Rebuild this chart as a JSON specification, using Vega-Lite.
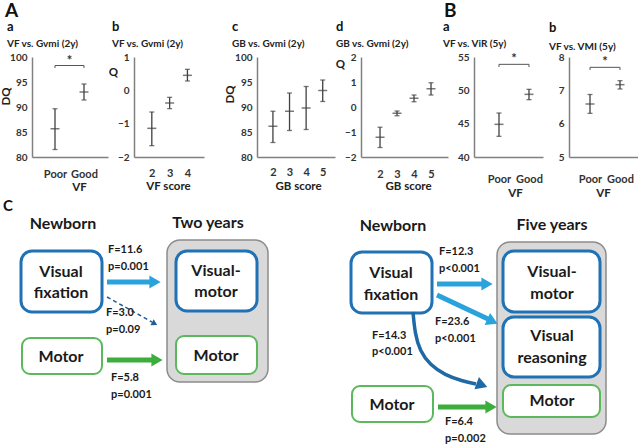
{
  "$schema": "https://vega.github.io/schema/vega-lite/v6.json",
  "background": "white",
  "padding": {"left": 0, "top": 2, "right": 0, "bottom": 0},
  "config": {
    "font": "Lato",
    "view": {"stroke": null},
    "axis": {"grid": false, "ticks": false, "labelOverlap": false, "labelFlush": false, "domainColor": "#808080", "domainWidth": 1.5, "labelFontSize": 10, "labelFontWeight": "bold", "labelColor": "#333333", "titleFontSize": 11.5, "titleFontWeight": "bold", "titleColor": "#222222", "titleBaseline": "middle", "titleAlign": "center", "labelPadding": 5},
    "axisX": {"labelFontSize": 11, "labelAngle": 0},
    "title": {"anchor": "start", "frame": "group", "fontSize": 13, "fontWeight": "bold", "color": "#111111", "subtitleFontSize": 10, "subtitleFontWeight": "bold", "subtitleColor": "#222222", "subtitlePadding": 5, "offset": 3}
  },
  "datasets": {
    "A_a": [{"vf": 1, "m": 85.65, "lo": 81.5, "hi": 89.65}, {"vf": 2, "m": 93.0, "lo": 91.4, "hi": 94.6}],
    "A_b": [{"s": 2, "m": -1.14, "lo": -1.66, "hi": -0.65}, {"s": 3, "m": -0.38, "lo": -0.55, "hi": -0.21}, {"s": 4, "m": 0.45, "lo": 0.28, "hi": 0.63}],
    "A_c": [{"s": 2, "m": 86.15, "lo": 82.9, "hi": 89.15}, {"s": 3, "m": 89.15, "lo": 85.3, "hi": 92.8}, {"s": 4, "m": 89.8, "lo": 85.5, "hi": 94.1}, {"s": 5, "m": 93.3, "lo": 91.1, "hi": 95.4}],
    "A_d": [{"s": 2, "m": -1.21, "lo": -1.62, "hi": -0.81}, {"s": 3, "m": -0.25, "lo": -0.35, "hi": -0.16}, {"s": 4, "m": 0.35, "lo": 0.21, "hi": 0.48}, {"s": 5, "m": 0.73, "lo": 0.48, "hi": 0.97}],
    "B_a": [{"vf": 1, "m": 44.9, "lo": 43.1, "hi": 46.6}, {"vf": 2, "m": 49.4, "lo": 48.6, "hi": 50.15}],
    "B_b": [{"vf": 1, "m": 6.59, "lo": 6.31, "hi": 6.875}, {"vf": 2, "m": 7.17, "lo": 7.04, "hi": 7.29}],
    "sig_Aa": [{"p1": 1, "p2": 2, "mid": 1.5, "lev": 98.3, "drop": 97.8, "t": "*"}],
    "sig_Ba": [{"p1": 1, "p2": 2, "mid": 1.5, "lev": 53.9, "drop": 53.5, "t": "*"}],
    "sig_Bb": [{"p1": 1, "p2": 2, "mid": 1.5, "lev": 7.69, "drop": 7.61, "t": "*"}],
    "grayBoxes": [{"x": 167, "x2": 268, "y": 241, "y2": 383}, {"x": 497, "x2": 606, "y": 243, "y2": 435}],
    "blueBoxes": [{"x": 21, "x2": 102, "y": 252, "y2": 313}, {"x": 176, "x2": 257, "y": 252, "y2": 312}, {"x": 351, "x2": 432, "y": 253, "y2": 314}, {"x": 503, "x2": 600, "y": 252, "y2": 313}, {"x": 503, "x2": 600, "y": 318, "y2": 378}],
    "greenBoxes": [{"x": 22, "x2": 102, "y": 339, "y2": 375}, {"x": 176, "x2": 257, "y": 337, "y2": 375}, {"x": 352, "x2": 433, "y": 387, "y2": 423}, {"x": 503, "x2": 600, "y": 386, "y2": 418}],
    "lightShafts": [{"x": 107, "y": 283, "x2": 151, "y2": 283}, {"x": 437, "y": 285, "x2": 482, "y2": 285}, {"x": 437, "y": 296, "x2": 488, "y2": 320}],
    "greenShafts": [{"x": 107, "y": 361, "x2": 152, "y2": 361}, {"x": 438, "y": 408, "x2": 486, "y2": 408}],
    "dashedShafts": [{"x": 107, "y": 298, "x2": 152, "y2": 323}],
    "curve": [{"i": 1, "x": 413, "y": 313}, {"i": 2, "x": 415, "y": 335}, {"i": 3, "x": 420, "y": 352}, {"i": 4, "x": 430, "y": 366}, {"i": 5, "x": 445, "y": 376}, {"i": 6, "x": 462, "y": 382}, {"i": 7, "x": 476, "y": 385}],
    "lightHeads": [{"x": 155, "y": 283, "a": 0}, {"x": 487, "y": 285, "a": 0}, {"x": 492.5, "y": 322.4, "a": 25}],
    "greenHeads": [{"x": 157, "y": 361, "a": 0}, {"x": 491, "y": 408, "a": 0}],
    "dashedHeads": [{"x": 154.6, "y": 324.7, "a": 29}],
    "darkHeads": [{"x": 482, "y": 386, "a": 20}],
    "headers": [{"t": "Newborn", "x": 63, "y": 225}, {"t": "Two years", "x": 208, "y": 224}, {"t": "Newborn", "x": 393, "y": 227}, {"t": "Five years", "x": 552, "y": 226}],
    "boxText": [{"t": "Visual", "x": 61, "y": 273}, {"t": "fixation", "x": 61, "y": 294}, {"t": "Motor", "x": 61, "y": 358}, {"t": "Visual-", "x": 216, "y": 272}, {"t": "motor", "x": 216, "y": 293}, {"t": "Motor", "x": 216, "y": 357}, {"t": "Visual", "x": 391, "y": 274}, {"t": "fixation", "x": 391, "y": 296}, {"t": "Motor", "x": 392, "y": 406}, {"t": "Visual-", "x": 552, "y": 273}, {"t": "motor", "x": 552, "y": 295}, {"t": "Visual", "x": 552, "y": 337}, {"t": "reasoning", "x": 552, "y": 359}, {"t": "Motor", "x": 552, "y": 402}],
    "stats": [{"t": "F=11.6", "x": 108, "y": 251}, {"t": "p=0.001", "x": 108, "y": 268}, {"t": "F=3.0", "x": 106, "y": 314}, {"t": "p=0.09", "x": 106, "y": 331}, {"t": "F=5.8", "x": 111, "y": 379}, {"t": "p=0.001", "x": 111, "y": 396}, {"t": "F=12.3", "x": 439, "y": 253}, {"t": "p<0.001", "x": 439, "y": 270}, {"t": "F=23.6", "x": 435, "y": 323}, {"t": "p<0.001", "x": 435, "y": 340}, {"t": "F=14.3", "x": 372, "y": 337}, {"t": "p<0.001", "x": 372, "y": 353}, {"t": "F=6.4", "x": 445, "y": 423}, {"t": "p=0.002", "x": 445, "y": 440}],
    "bigLetters": [{"t": "A", "x": 5, "y": 12}, {"t": "B", "x": 444, "y": 12}],
    "letterC": [{"t": "C", "x": 3, "y": 207}]
  },
  "bounds": "flush",
  "spacing": 26,
  "hconcat": [
    {
      "width": 76, "height": 100,
      "title": {"text": "a", "subtitle": "VF vs. Gvmi (2y)", "dx": -25},
      "data": {"name": "A_a"},
      "layer": [
        {"mark": {"type": "rule", "color": "#404040", "strokeWidth": 1.3},
         "encoding": {
           "x": {"field": "vf", "type": "quantitative", "title": "VF", "scale": {"domain": [0.207, 2.828], "nice": false, "zero": false}, "axis": {"values": [1, 2], "labelOverlap": false, "labelExpr": "datum.value == 1 ? 'Poor' : 'Good'", "labelPadding": 11, "titleX": 47, "titleY": 30}},
           "y": {"field": "lo", "type": "quantitative", "title": "DQ", "scale": {"domain": [80, 100], "nice": false, "zero": false}, "axis": {"values": [80, 85, 90, 95, 100], "labelOverlap": false, "titleX": -26, "titleY": 39}},
           "y2": {"field": "hi"}}},
        {"mark": {"type": "tick", "orient": "horizontal", "size": 5, "thickness": 1.3, "color": "#404040"},
         "encoding": {
           "x": {"field": "vf", "type": "quantitative", "title": "VF", "scale": {"domain": [0.207, 2.828], "nice": false, "zero": false}, "axis": {"values": [1, 2], "labelOverlap": false, "labelExpr": "datum.value == 1 ? 'Poor' : 'Good'", "labelPadding": 11, "titleX": 47, "titleY": 30}},
           "y": {"field": "lo", "type": "quantitative", "title": "DQ", "scale": {"domain": [80, 100], "nice": false, "zero": false}, "axis": {"values": [80, 85, 90, 95, 100], "labelOverlap": false, "titleX": -26, "titleY": 39}}}},
        {"mark": {"type": "tick", "orient": "horizontal", "size": 5, "thickness": 1.3, "color": "#404040"},
         "encoding": {
           "x": {"field": "vf", "type": "quantitative", "title": "VF", "scale": {"domain": [0.207, 2.828], "nice": false, "zero": false}, "axis": {"values": [1, 2], "labelOverlap": false, "labelExpr": "datum.value == 1 ? 'Poor' : 'Good'", "labelPadding": 11, "titleX": 47, "titleY": 30}},
           "y": {"field": "hi", "type": "quantitative", "title": "DQ", "scale": {"domain": [80, 100], "nice": false, "zero": false}, "axis": {"values": [80, 85, 90, 95, 100], "labelOverlap": false, "titleX": -26, "titleY": 39}}}},
        {"mark": {"type": "tick", "orient": "horizontal", "size": 9, "thickness": 1.5, "color": "#404040"},
         "encoding": {
           "x": {"field": "vf", "type": "quantitative", "title": "VF", "scale": {"domain": [0.207, 2.828], "nice": false, "zero": false}, "axis": {"values": [1, 2], "labelOverlap": false, "labelExpr": "datum.value == 1 ? 'Poor' : 'Good'", "labelPadding": 11, "titleX": 47, "titleY": 30}},
           "y": {"field": "m", "type": "quantitative", "title": "DQ", "scale": {"domain": [80, 100], "nice": false, "zero": false}, "axis": {"values": [80, 85, 90, 95, 100], "labelOverlap": false, "titleX": -26, "titleY": 39}}}},
        {"data": {"name": "sig_Aa"}, "mark": {"type": "rule", "color": "#555555", "strokeWidth": 1},
         "encoding": {
           "x": {"field": "p1", "type": "quantitative", "title": "VF", "scale": {"domain": [0.207, 2.828], "nice": false, "zero": false}, "axis": {"values": [1, 2], "labelOverlap": false, "labelExpr": "datum.value == 1 ? 'Poor' : 'Good'", "labelPadding": 11, "titleX": 47, "titleY": 30}},
           "x2": {"field": "p2"},
           "y": {"field": "lev", "type": "quantitative", "title": "DQ", "scale": {"domain": [80, 100], "nice": false, "zero": false}, "axis": {"values": [80, 85, 90, 95, 100], "labelOverlap": false, "titleX": -26, "titleY": 39}}}},
        {"data": {"name": "sig_Aa"}, "mark": {"type": "rule", "color": "#555555", "strokeWidth": 1},
         "encoding": {
           "x": {"field": "p1", "type": "quantitative", "title": "VF", "scale": {"domain": [0.207, 2.828], "nice": false, "zero": false}, "axis": {"values": [1, 2], "labelOverlap": false, "labelExpr": "datum.value == 1 ? 'Poor' : 'Good'", "labelPadding": 11, "titleX": 47, "titleY": 30}},
           "y": {"field": "lev", "type": "quantitative", "title": "DQ", "scale": {"domain": [80, 100], "nice": false, "zero": false}, "axis": {"values": [80, 85, 90, 95, 100], "labelOverlap": false, "titleX": -26, "titleY": 39}},
           "y2": {"field": "drop"}}},
        {"data": {"name": "sig_Aa"}, "mark": {"type": "rule", "color": "#555555", "strokeWidth": 1},
         "encoding": {
           "x": {"field": "p2", "type": "quantitative", "title": "VF", "scale": {"domain": [0.207, 2.828], "nice": false, "zero": false}, "axis": {"values": [1, 2], "labelOverlap": false, "labelExpr": "datum.value == 1 ? 'Poor' : 'Good'", "labelPadding": 11, "titleX": 47, "titleY": 30}},
           "y": {"field": "lev", "type": "quantitative", "title": "DQ", "scale": {"domain": [80, 100], "nice": false, "zero": false}, "axis": {"values": [80, 85, 90, 95, 100], "labelOverlap": false, "titleX": -26, "titleY": 39}},
           "y2": {"field": "drop"}}},
        {"data": {"name": "sig_Aa"}, "mark": {"type": "text", "fontSize": 13, "fontWeight": "bold", "baseline": "alphabetic", "dy": -1, "color": "#333333"},
         "encoding": {
           "x": {"field": "mid", "type": "quantitative", "title": "VF", "scale": {"domain": [0.207, 2.828], "nice": false, "zero": false}, "axis": {"values": [1, 2], "labelOverlap": false, "labelExpr": "datum.value == 1 ? 'Poor' : 'Good'", "labelPadding": 11, "titleX": 47, "titleY": 30}},
           "y": {"field": "lev", "type": "quantitative", "title": "DQ", "scale": {"domain": [80, 100], "nice": false, "zero": false}, "axis": {"values": [80, 85, 90, 95, 100], "labelOverlap": false, "titleX": -26, "titleY": 39}},
           "text": {"field": "t"}}}
      ]
    },
    {
      "width": 70, "height": 100,
      "title": {"text": "b", "subtitle": "VF vs. Gvmi (2y)", "dx": -22},
      "data": {"name": "A_b"},
      "layer": [
        {"mark": {"type": "rule", "color": "#404040", "strokeWidth": 1.3},
         "encoding": {
           "x": {"field": "s", "type": "quantitative", "title": "VF score", "scale": {"domain": [1.0, 4.93], "nice": false, "zero": false}, "axis": {"values": [2, 3, 4], "labelOverlap": false, "labelPadding": 10, "titleX": 34, "titleY": 29}},
           "y": {"field": "lo", "type": "quantitative", "title": "Q", "scale": {"domain": [-2, 1], "nice": false, "zero": false}, "axis": {"values": [-2, -1, 0, 1], "labelOverlap": false, "titleAngle": 0, "titleX": -21, "titleY": 15}},
           "y2": {"field": "hi"}}},
        {"mark": {"type": "tick", "orient": "horizontal", "size": 5, "thickness": 1.3, "color": "#404040"},
         "encoding": {
           "x": {"field": "s", "type": "quantitative", "title": "VF score", "scale": {"domain": [1.0, 4.93], "nice": false, "zero": false}, "axis": {"values": [2, 3, 4], "labelOverlap": false, "labelPadding": 10, "titleX": 34, "titleY": 29}},
           "y": {"field": "lo", "type": "quantitative", "title": "Q", "scale": {"domain": [-2, 1], "nice": false, "zero": false}, "axis": {"values": [-2, -1, 0, 1], "labelOverlap": false, "titleAngle": 0, "titleX": -21, "titleY": 15}}}},
        {"mark": {"type": "tick", "orient": "horizontal", "size": 5, "thickness": 1.3, "color": "#404040"},
         "encoding": {
           "x": {"field": "s", "type": "quantitative", "title": "VF score", "scale": {"domain": [1.0, 4.93], "nice": false, "zero": false}, "axis": {"values": [2, 3, 4], "labelOverlap": false, "labelPadding": 10, "titleX": 34, "titleY": 29}},
           "y": {"field": "hi", "type": "quantitative", "title": "Q", "scale": {"domain": [-2, 1], "nice": false, "zero": false}, "axis": {"values": [-2, -1, 0, 1], "labelOverlap": false, "titleAngle": 0, "titleX": -21, "titleY": 15}}}},
        {"mark": {"type": "tick", "orient": "horizontal", "size": 9, "thickness": 1.5, "color": "#404040"},
         "encoding": {
           "x": {"field": "s", "type": "quantitative", "title": "VF score", "scale": {"domain": [1.0, 4.93], "nice": false, "zero": false}, "axis": {"values": [2, 3, 4], "labelOverlap": false, "labelPadding": 10, "titleX": 34, "titleY": 29}},
           "y": {"field": "m", "type": "quantitative", "title": "Q", "scale": {"domain": [-2, 1], "nice": false, "zero": false}, "axis": {"values": [-2, -1, 0, 1], "labelOverlap": false, "titleAngle": 0, "titleX": -21, "titleY": 15}}}}
      ]
    },
    {
      "width": 1, "height": 100,
      "encoding": {
        "x": {"field": "x", "type": "quantitative", "scale": {"domain": [0, 640], "range": [-230, 410], "nice": false, "zero": false}, "axis": null},
        "y": {"field": "y", "type": "quantitative", "scale": {"domain": [58, 448], "range": [0, 390], "nice": false, "zero": false}, "axis": null}
      },
      "layer": [
        {"data": {"name": "grayBoxes"}, "mark": {"type": "rect", "cornerRadius": 13, "fill": "#d9d9d9", "stroke": "#8c8c8c", "strokeWidth": 1.5}, "encoding": {"x2": {"field": "x2"}, "y2": {"field": "y2"}}},
        {"data": {"name": "blueBoxes"}, "mark": {"type": "rect", "cornerRadius": 11, "fill": "#ffffff", "stroke": "#2171b5", "strokeWidth": 3}, "encoding": {"x2": {"field": "x2"}, "y2": {"field": "y2"}}},
        {"data": {"name": "greenBoxes"}, "mark": {"type": "rect", "cornerRadius": 8, "fill": "#ffffff", "stroke": "#5cb85c", "strokeWidth": 2}, "encoding": {"x2": {"field": "x2"}, "y2": {"field": "y2"}}},
        {"data": {"name": "lightShafts"}, "mark": {"type": "rule", "color": "#2aa3dd", "strokeWidth": 5}, "encoding": {"x2": {"field": "x2"}, "y2": {"field": "y2"}}},
        {"data": {"name": "greenShafts"}, "mark": {"type": "rule", "color": "#3dae3d", "strokeWidth": 5}, "encoding": {"x2": {"field": "x2"}, "y2": {"field": "y2"}}},
        {"data": {"name": "dashedShafts"}, "mark": {"type": "rule", "color": "#1f5c99", "strokeWidth": 1.5, "strokeDash": [4, 3]}, "encoding": {"x2": {"field": "x2"}, "y2": {"field": "y2"}}},
        {"data": {"name": "curve"}, "mark": {"type": "line", "color": "#1d6aa6", "strokeWidth": 3.5, "interpolate": "basis"}, "encoding": {"order": {"field": "i", "type": "quantitative"}}},
        {"data": {"name": "lightHeads"}, "mark": {"type": "point", "shape": "triangle-right", "filled": true, "size": 170, "color": "#2aa3dd", "opacity": 1}, "encoding": {"angle": {"field": "a", "type": "quantitative", "scale": null}}},
        {"data": {"name": "greenHeads"}, "mark": {"type": "point", "shape": "triangle-right", "filled": true, "size": 170, "color": "#3dae3d", "opacity": 1}, "encoding": {"angle": {"field": "a", "type": "quantitative", "scale": null}}},
        {"data": {"name": "dashedHeads"}, "mark": {"type": "point", "shape": "triangle-right", "filled": true, "size": 45, "color": "#1f5c99", "opacity": 1}, "encoding": {"angle": {"field": "a", "type": "quantitative", "scale": null}}},
        {"data": {"name": "darkHeads"}, "mark": {"type": "point", "shape": "triangle-right", "filled": true, "size": 170, "color": "#1d6aa6", "opacity": 1}, "encoding": {"angle": {"field": "a", "type": "quantitative", "scale": null}}},
        {"data": {"name": "headers"}, "mark": {"type": "text", "fontSize": 16, "fontWeight": "bold", "align": "center", "baseline": "middle", "color": "#1a1a1a"}, "encoding": {"text": {"field": "t"}}},
        {"data": {"name": "boxText"}, "mark": {"type": "text", "fontSize": 16, "fontWeight": "bold", "align": "center", "baseline": "middle", "color": "#1a1a1a"}, "encoding": {"text": {"field": "t"}}},
        {"data": {"name": "stats"}, "mark": {"type": "text", "fontSize": 11, "fontWeight": "bold", "align": "left", "baseline": "middle", "color": "#1a1a1a"}, "encoding": {"text": {"field": "t"}}},
        {"data": {"name": "bigLetters"}, "mark": {"type": "text", "fontSize": 19, "fontWeight": "bold", "align": "left", "baseline": "middle", "color": "#111111"}, "encoding": {"text": {"field": "t"}}},
        {"data": {"name": "letterC"}, "mark": {"type": "text", "fontSize": 15, "fontWeight": "bold", "align": "left", "baseline": "middle", "color": "#111111"}, "encoding": {"text": {"field": "t"}}}
      ]
    },
    {
      "width": 78, "height": 100,
      "title": {"text": "c", "subtitle": "GB vs. Gvmi (2y)", "dx": -25},
      "data": {"name": "A_c"},
      "layer": [
        {"mark": {"type": "rule", "color": "#404040", "strokeWidth": 1.3},
         "encoding": {
           "x": {"field": "s", "type": "quantitative", "title": "GB score", "scale": {"domain": [1.04, 5.74], "nice": false, "zero": false}, "axis": {"values": [2, 3, 4, 5], "labelOverlap": false, "labelPadding": 9, "titleX": 41, "titleY": 29}},
           "y": {"field": "lo", "type": "quantitative", "title": "DQ", "scale": {"domain": [80, 100], "nice": false, "zero": false}, "axis": {"values": [80, 85, 90, 95, 100], "labelOverlap": false, "titleX": -27, "titleY": 37}},
           "y2": {"field": "hi"}}},
        {"mark": {"type": "tick", "orient": "horizontal", "size": 5, "thickness": 1.3, "color": "#404040"},
         "encoding": {
           "x": {"field": "s", "type": "quantitative", "title": "GB score", "scale": {"domain": [1.04, 5.74], "nice": false, "zero": false}, "axis": {"values": [2, 3, 4, 5], "labelOverlap": false, "labelPadding": 9, "titleX": 41, "titleY": 29}},
           "y": {"field": "lo", "type": "quantitative", "title": "DQ", "scale": {"domain": [80, 100], "nice": false, "zero": false}, "axis": {"values": [80, 85, 90, 95, 100], "labelOverlap": false, "titleX": -27, "titleY": 37}}}},
        {"mark": {"type": "tick", "orient": "horizontal", "size": 5, "thickness": 1.3, "color": "#404040"},
         "encoding": {
           "x": {"field": "s", "type": "quantitative", "title": "GB score", "scale": {"domain": [1.04, 5.74], "nice": false, "zero": false}, "axis": {"values": [2, 3, 4, 5], "labelOverlap": false, "labelPadding": 9, "titleX": 41, "titleY": 29}},
           "y": {"field": "hi", "type": "quantitative", "title": "DQ", "scale": {"domain": [80, 100], "nice": false, "zero": false}, "axis": {"values": [80, 85, 90, 95, 100], "labelOverlap": false, "titleX": -27, "titleY": 37}}}},
        {"mark": {"type": "tick", "orient": "horizontal", "size": 9, "thickness": 1.5, "color": "#404040"},
         "encoding": {
           "x": {"field": "s", "type": "quantitative", "title": "GB score", "scale": {"domain": [1.04, 5.74], "nice": false, "zero": false}, "axis": {"values": [2, 3, 4, 5], "labelOverlap": false, "labelPadding": 9, "titleX": 41, "titleY": 29}},
           "y": {"field": "m", "type": "quantitative", "title": "DQ", "scale": {"domain": [80, 100], "nice": false, "zero": false}, "axis": {"values": [80, 85, 90, 95, 100], "labelOverlap": false, "titleX": -27, "titleY": 37}}}}
      ]
    },
    {
      "width": 87, "height": 100,
      "title": {"text": "d", "subtitle": "GB vs. Gvmi (2y)", "dx": -25},
      "data": {"name": "A_d"},
      "layer": [
        {"mark": {"type": "rule", "color": "#404040", "strokeWidth": 1.3},
         "encoding": {
           "x": {"field": "s", "type": "quantitative", "title": "GB score", "scale": {"domain": [0.88, 6.0], "nice": false, "zero": false}, "axis": {"values": [2, 3, 4, 5], "labelOverlap": false, "labelPadding": 11, "titleX": 47, "titleY": 29}},
           "y": {"field": "lo", "type": "quantitative", "title": "Q", "scale": {"domain": [-2, 2], "nice": false, "zero": false}, "axis": {"values": [-2, -1, 0, 1, 2], "labelOverlap": false, "titleAngle": 0, "titleX": -21, "titleY": 7}},
           "y2": {"field": "hi"}}},
        {"mark": {"type": "tick", "orient": "horizontal", "size": 5, "thickness": 1.3, "color": "#404040"},
         "encoding": {
           "x": {"field": "s", "type": "quantitative", "title": "GB score", "scale": {"domain": [0.88, 6.0], "nice": false, "zero": false}, "axis": {"values": [2, 3, 4, 5], "labelOverlap": false, "labelPadding": 11, "titleX": 47, "titleY": 29}},
           "y": {"field": "lo", "type": "quantitative", "title": "Q", "scale": {"domain": [-2, 2], "nice": false, "zero": false}, "axis": {"values": [-2, -1, 0, 1, 2], "labelOverlap": false, "titleAngle": 0, "titleX": -21, "titleY": 7}}}},
        {"mark": {"type": "tick", "orient": "horizontal", "size": 5, "thickness": 1.3, "color": "#404040"},
         "encoding": {
           "x": {"field": "s", "type": "quantitative", "title": "GB score", "scale": {"domain": [0.88, 6.0], "nice": false, "zero": false}, "axis": {"values": [2, 3, 4, 5], "labelOverlap": false, "labelPadding": 11, "titleX": 47, "titleY": 29}},
           "y": {"field": "hi", "type": "quantitative", "title": "Q", "scale": {"domain": [-2, 2], "nice": false, "zero": false}, "axis": {"values": [-2, -1, 0, 1, 2], "labelOverlap": false, "titleAngle": 0, "titleX": -21, "titleY": 7}}}},
        {"mark": {"type": "tick", "orient": "horizontal", "size": 9, "thickness": 1.5, "color": "#404040"},
         "encoding": {
           "x": {"field": "s", "type": "quantitative", "title": "GB score", "scale": {"domain": [0.88, 6.0], "nice": false, "zero": false}, "axis": {"values": [2, 3, 4, 5], "labelOverlap": false, "labelPadding": 11, "titleX": 47, "titleY": 29}},
           "y": {"field": "m", "type": "quantitative", "title": "Q", "scale": {"domain": [-2, 2], "nice": false, "zero": false}, "axis": {"values": [-2, -1, 0, 1, 2], "labelOverlap": false, "titleAngle": 0, "titleX": -21, "titleY": 7}}}}
      ]
    },
    {
      "width": 69, "height": 100,
      "title": {"text": "a", "subtitle": "VF vs. ViR (5y)", "dx": -31},
      "data": {"name": "B_a"},
      "layer": [
        {"mark": {"type": "rule", "color": "#404040", "strokeWidth": 1.3},
         "encoding": {
           "x": {"field": "vf", "type": "quantitative", "title": "VF", "scale": {"domain": [0.167, 2.467], "nice": false, "zero": false}, "axis": {"values": [1, 2], "labelOverlap": false, "labelExpr": "datum.value == 1 ? 'Poor' : 'Good'", "labelPadding": 16, "titleX": 41, "titleY": 36}},
           "y": {"field": "lo", "type": "quantitative", "title": null, "scale": {"domain": [40, 55], "nice": false, "zero": false}, "axis": {"values": [40, 45, 50, 55], "labelOverlap": false}},
           "y2": {"field": "hi"}}},
        {"mark": {"type": "tick", "orient": "horizontal", "size": 5, "thickness": 1.3, "color": "#404040"},
         "encoding": {
           "x": {"field": "vf", "type": "quantitative", "title": "VF", "scale": {"domain": [0.167, 2.467], "nice": false, "zero": false}, "axis": {"values": [1, 2], "labelOverlap": false, "labelExpr": "datum.value == 1 ? 'Poor' : 'Good'", "labelPadding": 16, "titleX": 41, "titleY": 36}},
           "y": {"field": "lo", "type": "quantitative", "title": null, "scale": {"domain": [40, 55], "nice": false, "zero": false}, "axis": {"values": [40, 45, 50, 55], "labelOverlap": false}}}},
        {"mark": {"type": "tick", "orient": "horizontal", "size": 5, "thickness": 1.3, "color": "#404040"},
         "encoding": {
           "x": {"field": "vf", "type": "quantitative", "title": "VF", "scale": {"domain": [0.167, 2.467], "nice": false, "zero": false}, "axis": {"values": [1, 2], "labelOverlap": false, "labelExpr": "datum.value == 1 ? 'Poor' : 'Good'", "labelPadding": 16, "titleX": 41, "titleY": 36}},
           "y": {"field": "hi", "type": "quantitative", "title": null, "scale": {"domain": [40, 55], "nice": false, "zero": false}, "axis": {"values": [40, 45, 50, 55], "labelOverlap": false}}}},
        {"mark": {"type": "tick", "orient": "horizontal", "size": 9, "thickness": 1.5, "color": "#404040"},
         "encoding": {
           "x": {"field": "vf", "type": "quantitative", "title": "VF", "scale": {"domain": [0.167, 2.467], "nice": false, "zero": false}, "axis": {"values": [1, 2], "labelOverlap": false, "labelExpr": "datum.value == 1 ? 'Poor' : 'Good'", "labelPadding": 16, "titleX": 41, "titleY": 36}},
           "y": {"field": "m", "type": "quantitative", "title": null, "scale": {"domain": [40, 55], "nice": false, "zero": false}, "axis": {"values": [40, 45, 50, 55], "labelOverlap": false}}}},
        {"data": {"name": "sig_Ba"}, "mark": {"type": "rule", "color": "#555555", "strokeWidth": 1},
         "encoding": {
           "x": {"field": "p1", "type": "quantitative", "title": "VF", "scale": {"domain": [0.167, 2.467], "nice": false, "zero": false}, "axis": {"values": [1, 2], "labelOverlap": false, "labelExpr": "datum.value == 1 ? 'Poor' : 'Good'", "labelPadding": 16, "titleX": 41, "titleY": 36}},
           "x2": {"field": "p2"},
           "y": {"field": "lev", "type": "quantitative", "title": null, "scale": {"domain": [40, 55], "nice": false, "zero": false}, "axis": {"values": [40, 45, 50, 55], "labelOverlap": false}}}},
        {"data": {"name": "sig_Ba"}, "mark": {"type": "rule", "color": "#555555", "strokeWidth": 1},
         "encoding": {
           "x": {"field": "p1", "type": "quantitative", "title": "VF", "scale": {"domain": [0.167, 2.467], "nice": false, "zero": false}, "axis": {"values": [1, 2], "labelOverlap": false, "labelExpr": "datum.value == 1 ? 'Poor' : 'Good'", "labelPadding": 16, "titleX": 41, "titleY": 36}},
           "y": {"field": "lev", "type": "quantitative", "title": null, "scale": {"domain": [40, 55], "nice": false, "zero": false}, "axis": {"values": [40, 45, 50, 55], "labelOverlap": false}},
           "y2": {"field": "drop"}}},
        {"data": {"name": "sig_Ba"}, "mark": {"type": "rule", "color": "#555555", "strokeWidth": 1},
         "encoding": {
           "x": {"field": "p2", "type": "quantitative", "title": "VF", "scale": {"domain": [0.167, 2.467], "nice": false, "zero": false}, "axis": {"values": [1, 2], "labelOverlap": false, "labelExpr": "datum.value == 1 ? 'Poor' : 'Good'", "labelPadding": 16, "titleX": 41, "titleY": 36}},
           "y": {"field": "lev", "type": "quantitative", "title": null, "scale": {"domain": [40, 55], "nice": false, "zero": false}, "axis": {"values": [40, 45, 50, 55], "labelOverlap": false}},
           "y2": {"field": "drop"}}},
        {"data": {"name": "sig_Ba"}, "mark": {"type": "text", "fontSize": 13, "fontWeight": "bold", "baseline": "alphabetic", "dy": -1, "color": "#333333"},
         "encoding": {
           "x": {"field": "mid", "type": "quantitative", "title": "VF", "scale": {"domain": [0.167, 2.467], "nice": false, "zero": false}, "axis": {"values": [1, 2], "labelOverlap": false, "labelExpr": "datum.value == 1 ? 'Poor' : 'Good'", "labelPadding": 16, "titleX": 41, "titleY": 36}},
           "y": {"field": "lev", "type": "quantitative", "title": null, "scale": {"domain": [40, 55], "nice": false, "zero": false}, "axis": {"values": [40, 45, 50, 55], "labelOverlap": false}},
           "text": {"field": "t"}}}
      ]
    },
    {
      "width": 69, "height": 100,
      "title": {"text": "b", "subtitle": "VF vs. VMI (5y)", "dx": -20, "offset": 0, "subtitlePadding": 7},
      "data": {"name": "B_b"},
      "layer": [
        {"mark": {"type": "rule", "color": "#404040", "strokeWidth": 1.3},
         "encoding": {
           "x": {"field": "vf", "type": "quantitative", "title": "VF", "scale": {"domain": [0.3, 2.6], "nice": false, "zero": false}, "axis": {"values": [1, 2], "labelOverlap": false, "labelExpr": "datum.value == 1 ? 'Poor' : 'Good'", "labelPadding": 16, "titleX": 34, "titleY": 36}},
           "y": {"field": "lo", "type": "quantitative", "title": null, "scale": {"domain": [5, 8], "nice": false, "zero": false}, "axis": {"values": [5, 6, 7, 8], "labelOverlap": false}},
           "y2": {"field": "hi"}}},
        {"mark": {"type": "tick", "orient": "horizontal", "size": 5, "thickness": 1.3, "color": "#404040"},
         "encoding": {
           "x": {"field": "vf", "type": "quantitative", "title": "VF", "scale": {"domain": [0.3, 2.6], "nice": false, "zero": false}, "axis": {"values": [1, 2], "labelOverlap": false, "labelExpr": "datum.value == 1 ? 'Poor' : 'Good'", "labelPadding": 16, "titleX": 34, "titleY": 36}},
           "y": {"field": "lo", "type": "quantitative", "title": null, "scale": {"domain": [5, 8], "nice": false, "zero": false}, "axis": {"values": [5, 6, 7, 8], "labelOverlap": false}}}},
        {"mark": {"type": "tick", "orient": "horizontal", "size": 5, "thickness": 1.3, "color": "#404040"},
         "encoding": {
           "x": {"field": "vf", "type": "quantitative", "title": "VF", "scale": {"domain": [0.3, 2.6], "nice": false, "zero": false}, "axis": {"values": [1, 2], "labelOverlap": false, "labelExpr": "datum.value == 1 ? 'Poor' : 'Good'", "labelPadding": 16, "titleX": 34, "titleY": 36}},
           "y": {"field": "hi", "type": "quantitative", "title": null, "scale": {"domain": [5, 8], "nice": false, "zero": false}, "axis": {"values": [5, 6, 7, 8], "labelOverlap": false}}}},
        {"mark": {"type": "tick", "orient": "horizontal", "size": 9, "thickness": 1.5, "color": "#404040"},
         "encoding": {
           "x": {"field": "vf", "type": "quantitative", "title": "VF", "scale": {"domain": [0.3, 2.6], "nice": false, "zero": false}, "axis": {"values": [1, 2], "labelOverlap": false, "labelExpr": "datum.value == 1 ? 'Poor' : 'Good'", "labelPadding": 16, "titleX": 34, "titleY": 36}},
           "y": {"field": "m", "type": "quantitative", "title": null, "scale": {"domain": [5, 8], "nice": false, "zero": false}, "axis": {"values": [5, 6, 7, 8], "labelOverlap": false}}}},
        {"data": {"name": "sig_Bb"}, "mark": {"type": "rule", "color": "#555555", "strokeWidth": 1},
         "encoding": {
           "x": {"field": "p1", "type": "quantitative", "title": "VF", "scale": {"domain": [0.3, 2.6], "nice": false, "zero": false}, "axis": {"values": [1, 2], "labelOverlap": false, "labelExpr": "datum.value == 1 ? 'Poor' : 'Good'", "labelPadding": 16, "titleX": 34, "titleY": 36}},
           "x2": {"field": "p2"},
           "y": {"field": "lev", "type": "quantitative", "title": null, "scale": {"domain": [5, 8], "nice": false, "zero": false}, "axis": {"values": [5, 6, 7, 8], "labelOverlap": false}}}},
        {"data": {"name": "sig_Bb"}, "mark": {"type": "rule", "color": "#555555", "strokeWidth": 1},
         "encoding": {
           "x": {"field": "p1", "type": "quantitative", "title": "VF", "scale": {"domain": [0.3, 2.6], "nice": false, "zero": false}, "axis": {"values": [1, 2], "labelOverlap": false, "labelExpr": "datum.value == 1 ? 'Poor' : 'Good'", "labelPadding": 16, "titleX": 34, "titleY": 36}},
           "y": {"field": "lev", "type": "quantitative", "title": null, "scale": {"domain": [5, 8], "nice": false, "zero": false}, "axis": {"values": [5, 6, 7, 8], "labelOverlap": false}},
           "y2": {"field": "drop"}}},
        {"data": {"name": "sig_Bb"}, "mark": {"type": "rule", "color": "#555555", "strokeWidth": 1},
         "encoding": {
           "x": {"field": "p2", "type": "quantitative", "title": "VF", "scale": {"domain": [0.3, 2.6], "nice": false, "zero": false}, "axis": {"values": [1, 2], "labelOverlap": false, "labelExpr": "datum.value == 1 ? 'Poor' : 'Good'", "labelPadding": 16, "titleX": 34, "titleY": 36}},
           "y": {"field": "lev", "type": "quantitative", "title": null, "scale": {"domain": [5, 8], "nice": false, "zero": false}, "axis": {"values": [5, 6, 7, 8], "labelOverlap": false}},
           "y2": {"field": "drop"}}},
        {"data": {"name": "sig_Bb"}, "mark": {"type": "text", "fontSize": 13, "fontWeight": "bold", "baseline": "alphabetic", "dy": -1, "color": "#333333"},
         "encoding": {
           "x": {"field": "mid", "type": "quantitative", "title": "VF", "scale": {"domain": [0.3, 2.6], "nice": false, "zero": false}, "axis": {"values": [1, 2], "labelOverlap": false, "labelExpr": "datum.value == 1 ? 'Poor' : 'Good'", "labelPadding": 16, "titleX": 34, "titleY": 36}},
           "y": {"field": "lev", "type": "quantitative", "title": null, "scale": {"domain": [5, 8], "nice": false, "zero": false}, "axis": {"values": [5, 6, 7, 8], "labelOverlap": false}},
           "text": {"field": "t"}}}
      ]
    }
  ]
}
